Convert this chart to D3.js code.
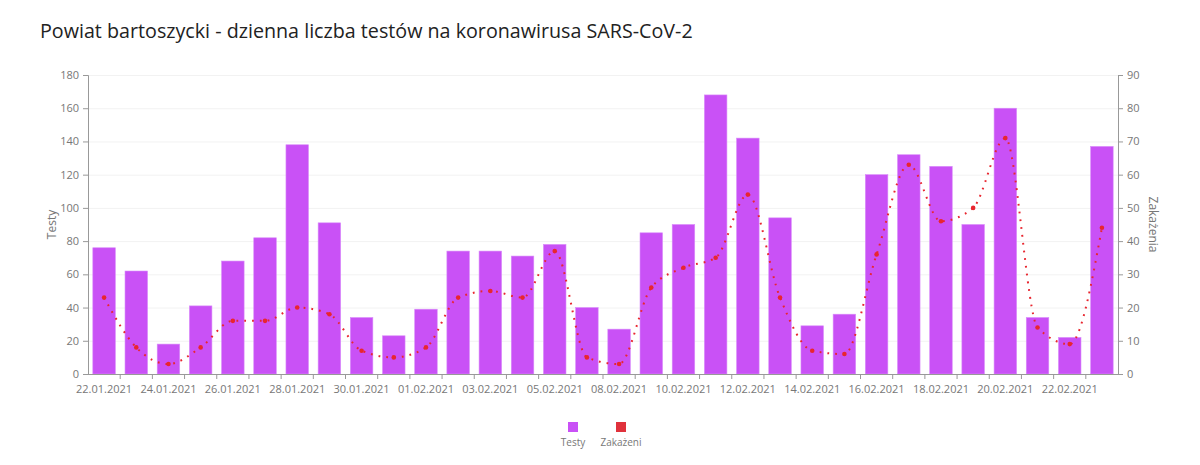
<!DOCTYPE html>
<html><head><meta charset="utf-8">
<script src="https://cdn.jsdelivr.net/npm/d3@7"></script>
<style>body{margin:0;background:#fff;font-family:"Open Sans","Noto Sans",sans-serif}</style>
</head><body><svg id="c" width="1200" height="465"></svg>
<script>
const dates = ["22.01.2021","23.01.2021","24.01.2021","25.01.2021","26.01.2021","27.01.2021","28.01.2021","29.01.2021","30.01.2021","31.01.2021","01.02.2021","02.02.2021","03.02.2021","04.02.2021","05.02.2021","06.02.2021","08.02.2021","09.02.2021","10.02.2021","11.02.2021","12.02.2021","13.02.2021","14.02.2021","15.02.2021","16.02.2021","17.02.2021","18.02.2021","19.02.2021","20.02.2021","21.02.2021","22.02.2021","23.02.2021"];
const testy = [76,62,18,41,68,82,138,91,34,23,39,74,74,71,78,40,27,85,90,168,142,94,29,36,120,132,125,90,160,34,22,137];
const zakazeni = [23,8,3,8,16,16,20,18,7,5,8,23,25,23,37,5,3,26,32,35,54,23,7,6,36,63,46,50,71,14,9,44];
const leftTicks = [0,20,40,60,80,100,120,140,160,180];
const rightTicks = [0,10,20,30,40,50,60,70,80,90];
const title = "Powiat bartoszycki - dzienna liczba testów na koronawirusa SARS-CoV-2";

const svg = d3.select("#c");
const m = {l:88, r:1118, t:75, b:374};
const x = d3.scaleBand().domain(dates).range([m.l, m.r]).paddingInner(0.3).paddingOuter(0.15);
const yL = d3.scaleLinear().domain([0,180]).range([m.b, m.t]);
const yR = d3.scaleLinear().domain([0,90]).range([m.b, m.t]);
const axisColor = "#999", textColor = "#777";

svg.append("text").attr("x",40).attr("y",38).attr("font-size",19.7).attr("fill","#222")
  .attr("font-family","'Open Sans',sans-serif").text(title);

// grid
svg.append("g").selectAll("line").data(leftTicks.filter(d=>d>0)).join("line")
  .attr("x1",m.l).attr("x2",m.r).attr("y1",d=>yL(d)+0.5).attr("y2",d=>yL(d)+0.5)
  .attr("stroke","#f2f2f2").attr("stroke-width",1);

// bars
svg.append("g").selectAll("rect").data(testy).join("rect")
  .attr("x",(d,i)=>x(dates[i])).attr("width",x.bandwidth())
  .attr("y",d=>yL(d)).attr("height",d=>yL(0)-yL(d))
  .attr("fill","#c951f6").attr("stroke","#d98cfa").attr("stroke-width",0.6);

// axes
const gl = svg.append("g").attr("transform",`translate(${m.l},0)`)
  .call(d3.axisLeft(yL).tickValues(leftTicks).tickSize(5).tickPadding(4));
const gr = svg.append("g").attr("transform",`translate(${m.r},0)`)
  .call(d3.axisRight(yR).tickValues(rightTicks).tickSize(5).tickPadding(4));
const step = x.step();
const bounds = dates.map((d,i)=>x(d)+x.bandwidth()+ step*x.paddingInner()/2).slice(0,-1);
const gb = svg.append("g");
gb.append("line").attr("x1",m.l).attr("x2",m.r).attr("y1",m.b+0.5).attr("y2",m.b+0.5).attr("stroke",axisColor);
gb.selectAll("line.t").data(bounds).join("line").attr("class","t")
  .attr("x1",d=>d).attr("x2",d=>d).attr("y1",m.b).attr("y2",m.b+5).attr("stroke",axisColor);
gb.selectAll("text").data(dates.filter((d,i)=>i%2===0)).join("text")
  .attr("x",d=>x(d)+x.bandwidth()/2).attr("y",m.b+19).attr("text-anchor","middle")
  .attr("font-size",11).attr("fill",textColor).text(d=>d);

[gl,gr].forEach(g=>{
  g.selectAll("path.domain").attr("stroke",axisColor);
  g.selectAll(".tick line").attr("stroke",axisColor);
  g.selectAll("text").attr("fill",textColor).attr("font-size",11).attr("font-family","'Open Sans',sans-serif");
});
gb.selectAll("text").attr("font-family","'Open Sans',sans-serif");

svg.append("text").attr("transform",`translate(56,${(m.t+m.b)/2}) rotate(-90)`)
  .attr("text-anchor","middle").attr("font-size",12).attr("fill",textColor).text("Testy");
svg.append("text").attr("transform",`translate(1149,${(m.t+m.b)/2}) rotate(90)`)
  .attr("text-anchor","middle").attr("font-size",12).attr("fill",textColor).text("Zakażenia");

// line
const cx = (d,i)=>x(dates[i])+x.bandwidth()/2;
const line = d3.line().x(cx).y(d=>yR(d)).curve(d3.curveMonotoneX);
svg.append("path").datum(zakazeni).attr("d",line).attr("fill","none")
  .attr("stroke","#e8262f").attr("stroke-width",2).attr("stroke-dasharray","1.8,6")
  .attr("stroke-linecap","butt");
svg.append("g").selectAll("circle").data(zakazeni).join("circle")
  .attr("cx",cx).attr("cy",d=>yR(d)).attr("r",2.3).attr("fill","#e8262f");

// legend
const leg = [{n:"Testy",c:"#c951f6",x:573},{n:"Zakażeni",c:"#e0323c",x:621}];
const lg = svg.append("g").selectAll("g").data(leg).join("g");
lg.append("rect").attr("x",d=>d.x-5).attr("y",422).attr("width",10).attr("height",10).attr("fill",d=>d.c);
lg.append("text").attr("x",d=>d.x).attr("y",446).attr("text-anchor","middle")
  .attr("font-size",10).attr("fill",textColor).text(d=>d.n);
</script></body></html>
